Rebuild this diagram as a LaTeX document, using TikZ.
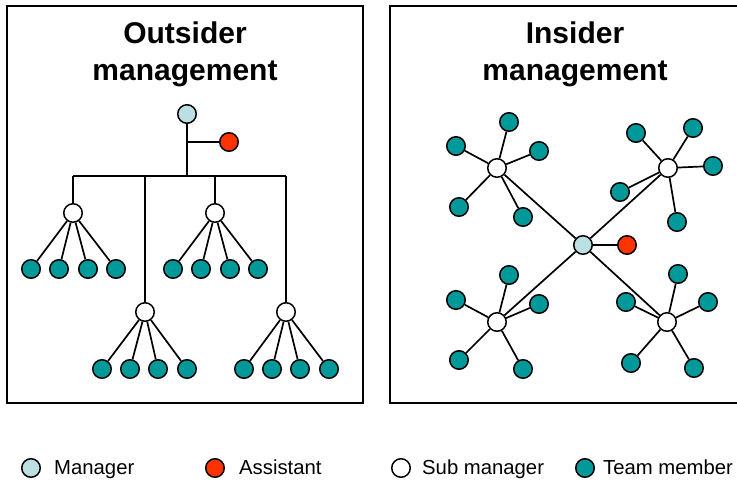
\documentclass[tikz,border=0pt]{standalone}
\usepackage{fontspec}
\setmainfont{Liberation Sans}
\definecolor{mgrc}{RGB}{187,223,226}
\definecolor{astc}{RGB}{255,51,0}
\definecolor{memc}{RGB}{0,153,153}
\begin{document}
\begin{tikzpicture}[x=1pt,y=-1pt,
  dot/.style={circle,draw=black,line width=1.5pt,minimum size=18.5pt,inner sep=0pt},
  mgrdot/.style={dot,fill=mgrc},
  astdot/.style={dot,fill=astc},
  subdot/.style={dot,fill=white},
  memdot/.style={dot,fill=memc},
  link/.style={line width=1.7pt},
  panel/.style={draw=black,line width=1.7pt},
  ttl/.style={anchor=base,inner sep=0pt,font=\fontsize{30}{36}\selectfont\bfseries},
  leg/.style={anchor=base west,inner sep=0pt,font=\fontsize{20.3}{24}\selectfont}]
\clip (0,0) rectangle (737,480);
\fill[white] (0,0) rectangle (737,480);
% panels
\draw[panel] (7,6) rectangle (363,403);
\draw[panel] (390,6) rectangle (750,403);
% titles
\node[ttl] (tL1) at (185,43) {Outsider};
\node[ttl] (tL2) at (185,80) {management};
\node[ttl] (tR1) at (575,43) {Insider};
\node[ttl] (tR2) at (575,80) {management};
% ---------- left tree ----------
\node[mgrdot] (mL) at (187,114) {};
\node[astdot] (aL) at (229,142) {};
\coordinate (jL) at (187,142);
\coordinate (busA) at (73,176);
\coordinate (busB) at (286,176);
\node[subdot] (s1) at (73,213) {};
\node[subdot] (s2) at (145,312) {};
\node[subdot] (s3) at (215,213) {};
\node[subdot] (s4) at (286,312) {};
\draw[link] (mL) -- (mL |- busA);
\draw[link] (jL) -- (aL);
\draw[link] (busA) -- (busB);
\draw[link] (busA) -- (s1);
\draw[link] (s2 |- busA) -- (s2);
\draw[link] (s3 |- busA) -- (s3);
\draw[link] (busB) -- (s4);
\foreach \s/\y/\xa/\xb/\xc/\xd in {s1/269/31/59/88/116, s3/269/173/201/230/258, s2/369/102/130/158/187, s4/369/244/272/300/329}{
  \node[memdot] (\s a) at (\xa,\y) {};
  \node[memdot] (\s b) at (\xb,\y) {};
  \node[memdot] (\s c) at (\xc,\y) {};
  \node[memdot] (\s d) at (\xd,\y) {};
  \draw[link] (\s) -- (\s a);
  \draw[link] (\s) -- (\s b);
  \draw[link] (\s) -- (\s c);
  \draw[link] (\s) -- (\s d);
}
% ---------- right star ----------
\node[mgrdot] (mR) at (583,245) {};
\node[astdot] (aR) at (627,245) {};
\node[subdot] (r1) at (497,168) {};
\node[subdot] (r2) at (668,168) {};
\node[subdot] (r3) at (497,322) {};
\node[subdot] (r4) at (667,322) {};
\draw[link] (mR) -- (aR);
\draw[link] (mR) -- (r1);
\draw[link] (mR) -- (r2);
\draw[link] (mR) -- (r3);
\draw[link] (mR) -- (r4);
\foreach \s/\pa/\pb/\pc/\pd/\pe in {
  r1/{509,122}/{456,146}/{539,151}/{459,207}/{523,217},
  r2/{693,128}/{636,133}/{713,166}/{620,192}/{677,222},
  r3/{509,275}/{456,300}/{539,304}/{459,360}/{523,369},
  r4/{678,274}/{626,302}/{708,302}/{631,363}/{694,368}}{
  \node[memdot] (\s a) at (\pa) {};
  \node[memdot] (\s b) at (\pb) {};
  \node[memdot] (\s c) at (\pc) {};
  \node[memdot] (\s d) at (\pd) {};
  \node[memdot] (\s e) at (\pe) {};
  \draw[link] (\s) -- (\s a);
  \draw[link] (\s) -- (\s b);
  \draw[link] (\s) -- (\s c);
  \draw[link] (\s) -- (\s d);
  \draw[link] (\s) -- (\s e);
}
% ---------- legend ----------
\node[mgrdot] (lg1) at (31,468) {};
\node[leg] (lt1) at (54,474) {Manager};
\node[astdot] (lg2) at (215,468) {};
\node[leg] (lt2) at (239,474) {Assistant};
\node[subdot] (lg3) at (401,468) {};
\node[leg] (lt3) at (422,474) {Sub manager};
\node[memdot] (lg4) at (585,468) {};
\node[leg] (lt4) at (603,474) {Team member};
\end{tikzpicture}
\end{document}
